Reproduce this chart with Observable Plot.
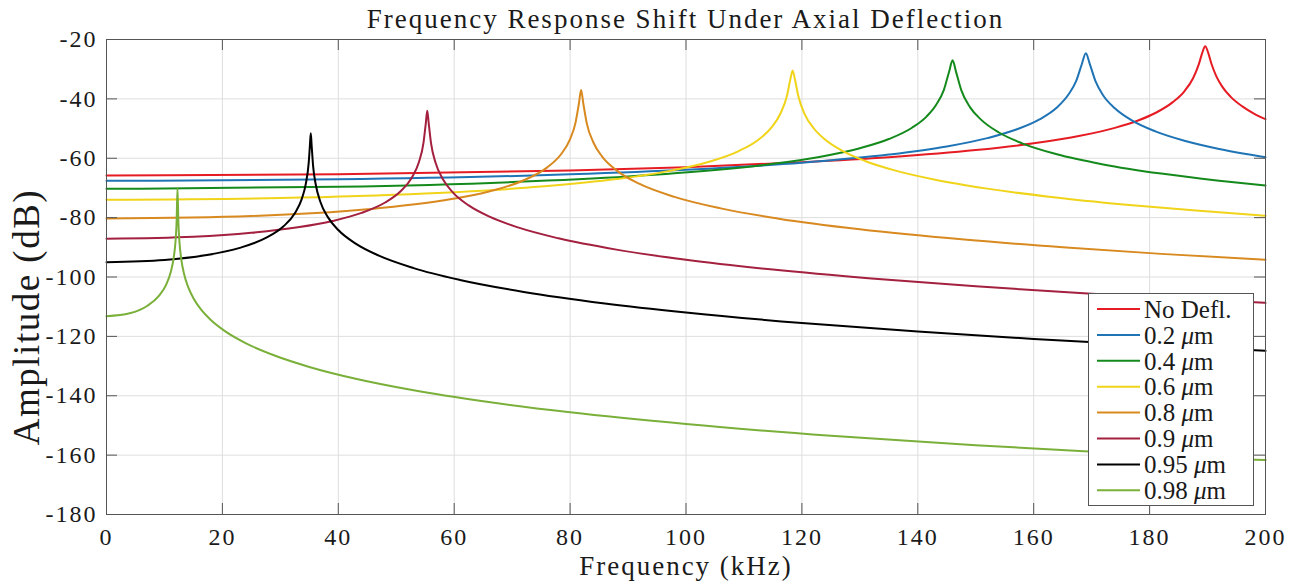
<!DOCTYPE html>
<html><head><meta charset="utf-8">
<script src="https://cdn.jsdelivr.net/npm/d3@7"></script>
<script src="https://cdn.jsdelivr.net/npm/@observablehq/plot@0.6"></script>
<style>
body{margin:0;background:#fff;}
#wrap{position:relative;width:1303px;height:585px;font-family:"Liberation Serif","Times New Roman",serif;color:#1a1a1a;}
#title{height:34px;line-height:38px;text-align:center;padding-left:106px;padding-right:38px;box-sizing:border-box;font-size:27px;letter-spacing:2px;white-space:nowrap;}
#chart svg text{letter-spacing:2px;}
#legend{position:absolute;left:0;top:0;pointer-events:none;}
</style></head>
<body>
<div id="wrap">
<div id="title">Frequency Response Shift Under Axial Deflection</div>
<div id="chart"></div>
</div>
<script>
// ---- data ----
const xTicks = [0, 20, 40, 60, 80, 100, 120, 140, 160, 180, 200];
const yTicks = [-180, -160, -140, -120, -100, -80, -60, -40, -20];

const seriesNames = ["No Defl.", "0.2", "0.4", "0.6", "0.8", "0.9", "0.95", "0.98"];
const seriesColors = ["#e51c23", "#1f74b6", "#158a1c", "#f0d41a", "#d8891f", "#a3203f", "#000000", "#7ab03a"];

const fNoDefl = [0, 40, 80, 100, 120, 135, 150, 160, 168, 174, 178, 181, 184, 186, 187.5, 188.5, 189.1, 189.6, 190.1, 190.7, 191.5, 192.5, 194, 196, 198, 200];
const aNoDefl = [-65.8, -65.4, -64.1, -63.0, -61.35, -59.66, -57.26, -54.98, -52.44, -49.76, -47.28, -44.76, -41.1, -37.44, -33.04, -28.3, -24.4, -22.3, -24.4, -28.35, -32.33, -35.78, -39.32, -42.53, -44.94, -46.84];

const f02 = [0, 40, 80, 100, 120, 135, 145, 152, 157, 161, 164, 166, 167.3, 168.3, 169, 169.7, 170.7, 172, 174, 177, 181, 186, 192, 200];
const a02 = [-67.6, -67.1, -65.4, -63.86, -61.51, -58.77, -56.03, -53.22, -50.33, -46.91, -42.91, -38.53, -34.14, -28.33, -24.6, -28.36, -34.22, -38.85, -43.17, -47.33, -50.95, -54.1, -56.87, -59.65];

const f04 = [0, 40, 70, 90, 105, 115, 123, 130, 135, 139, 141.5, 143.2, 144.5, 145.4, 146, 146.6, 147.5, 149, 151, 154, 158, 164, 172, 182, 192, 200];
const a04 = [-70.3, -69.62, -68.03, -66.15, -63.97, -61.89, -59.56, -56.63, -53.53, -49.72, -45.96, -41.89, -36.97, -30.87, -27, -30.9, -37.05, -42.78, -47.16, -51.33, -54.97, -58.66, -62.07, -65.17, -67.56, -69.16];

const f06 = [0, 30, 55, 75, 88, 97, 104, 109, 112.5, 114.8, 116.3, 117.4, 118, 118.4, 118.8, 119.4, 120.5, 122, 124, 127, 131, 136, 143, 152, 163, 176, 188, 200];
const a06 = [-74, -73.42, -71.89, -69.55, -67.02, -64.34, -61.17, -57.66, -53.75, -49.55, -44.92, -39.14, -33.5, -30.4, -33.5, -39.21, -45.22, -49.81, -53.72, -57.55, -61.01, -64.09, -67.23, -70.23, -73.04, -75.65, -77.64, -79.36];

const f08 = [0, 25, 45, 58, 66, 72, 76, 78.5, 80, 80.9, 81.5, 81.9, 82.3, 82.9, 84, 85.5, 88, 92, 98, 106, 116, 130, 148, 165, 182, 200];
const a08 = [-80.3, -79.45, -77.18, -74.25, -71.2, -67.42, -63.15, -58.5, -53.53, -48.33, -41.81, -37, -41.8, -48.43, -54.61, -59.37, -64.08, -68.66, -73.01, -76.89, -80.35, -83.93, -87.4, -90.01, -92.21, -94.21];

const f09 = [0, 15, 25, 33, 39, 44, 48, 50.8, 52.7, 53.9, 54.7, 55.1, 55.35, 55.6, 56, 56.8, 58, 59.8, 62.5, 66, 71, 78, 88, 100, 115, 132, 150, 170, 185, 200];
const a09 = [-87.1, -86.44, -85.12, -83.28, -81.14, -78.42, -74.99, -71.05, -66.51, -61.37, -54.83, -48.25, -44, -48.2, -54.94, -61.6, -66.93, -71.57, -75.89, -79.6, -83.3, -86.98, -90.78, -94.2, -97.51, -100.52, -103.15, -105.62, -107.25, -108.72];

const f095 = [0, 10, 17, 23, 27.5, 30.5, 32.5, 33.7, 34.4, 34.9, 35.1, 35.25, 35.4, 35.65, 36.1, 36.9, 38.2, 40, 43, 47, 53, 61, 72, 86, 100, 120, 140, 160, 180, 200];
const a095 = [-95, -94.27, -92.7, -90.18, -86.85, -83.01, -78.52, -73.69, -68.56, -61.39, -55.72, -51.6, -55.7, -62.54, -68.77, -74.63, -79.83, -84.18, -88.77, -92.82, -97.01, -101.0, -105.03, -108.9, -111.96, -115.5, -118.39, -120.85, -122.98, -124.88];

const f098 = [0, 4, 7, 9, 10.3, 11.1, 11.6, 11.9, 12.1, 12.25, 12.4, 12.6, 12.9, 13.4, 14.1, 15, 16.3, 18, 20.5, 24, 29, 35, 43, 53, 65, 80, 100, 125, 150, 175, 200];
const a098 = [-113.2, -112.22, -109.77, -106.46, -102.54, -98.25, -93.48, -88.22, -81.28, -70.2, -81.37, -88.46, -93.94, -99.07, -103.43, -107.17, -110.94, -114.48, -118.31, -122.26, -126.46, -130.3, -134.28, -138.17, -141.88, -145.59, -149.54, -153.47, -156.66, -159.35, -161.68];

const fArrays = [fNoDefl, f02, f04, f06, f08, f09, f095, f098];
const aArrays = [aNoDefl, a02, a04, a06, a08, a09, a095, a098];

// long table built from the arrays
const rows = [];
seriesNames.forEach((name, i) => {
  fArrays[i].forEach((f, j) => rows.push({series: name, f, a: aArrays[i][j]}));
});

const W = 1303, H = 551;
const mL = 106, mR = 38, mT = 5, mB = 71;
const innerW = W - mL - mR, innerH = H - mT - mB;
const tickLen = 11;
const axisColor = "#555555";
const gridColor = "#dedede";
const fmt = d => d.toString();

const chart = Plot.plot({
  width: W, height: H,
  marginLeft: mL, marginRight: mR, marginTop: mT, marginBottom: mB,
  style: {fontFamily: "'Liberation Serif', 'Times New Roman', serif", fontSize: "24px", color: "#1a1a1a", background: "white", overflow: "visible"},
  x: {domain: [0, 200], label: null},
  y: {domain: [-180, -20], label: null},
  color: {domain: seriesNames, range: seriesColors},
  marks: [
    Plot.gridX(xTicks, {stroke: gridColor, strokeOpacity: 1}),
    Plot.gridY(yTicks, {stroke: gridColor, strokeOpacity: 1}),
    Plot.line(rows, {x: "f", y: "a", z: "series", stroke: "series", strokeWidth: 2, curve: "monotone-x"}),
    Plot.tickX(xTicks, {x: d => d, insetTop: innerH - tickLen, stroke: axisColor}),
    Plot.tickX(xTicks, {x: d => d, insetBottom: innerH - tickLen, stroke: axisColor}),
    Plot.tickY(yTicks, {y: d => d, insetRight: innerW - tickLen, stroke: axisColor}),
    Plot.tickY(yTicks, {y: d => d, insetLeft: innerW - tickLen, stroke: axisColor}),
    Plot.frame({stroke: axisColor}),
    Plot.axisX(xTicks, {tickSize: 0, tickPadding: 13, fontSize: 24, tickFormat: fmt}),
    Plot.axisY(yTicks, {tickSize: 0, tickPadding: 9, fontSize: 24, tickFormat: fmt}),
    Plot.text(["Frequency (kHz)"], {frameAnchor: "bottom", dy: 60, fontSize: 27}),
    Plot.text(["Amplitude (dB)"], {frameAnchor: "left", textAnchor: "middle", dx: -79, dy: 40, rotate: -90, fontSize: 37})
  ]
});
document.getElementById("chart").appendChild(chart);
d3.select(chart).selectAll("text").filter(function(){ return this.textContent === "Amplitude (dB)"; }).style("letter-spacing", "1.5px");

// ---- legend overlay ----
const lg = d3.select("#wrap").append("svg").attr("id", "legend").attr("width", 1303).attr("height", 585);
const lx = 1088.5, ly = 293.5, lw = 165, lh = 212;
lg.append("rect").attr("x", lx).attr("y", ly).attr("width", lw).attr("height", lh)
  .attr("fill", "white").attr("stroke", axisColor).attr("stroke-width", 1);
seriesNames.forEach((name, i) => {
  const cy = 309 + i * 25.9;
  lg.append("line").attr("x1", 1097).attr("x2", 1140).attr("y1", cy).attr("y2", cy)
    .attr("stroke", seriesColors[i]).attr("stroke-width", 2);
  const t = lg.append("text").attr("x", 1144).attr("y", cy).attr("dy", "0.35em")
    .attr("font-family", "'Liberation Serif', 'Times New Roman', serif").attr("font-size", 25).attr("fill", "#1a1a1a");
  if (i === 0) {
    t.text(name);
  } else {
    t.append("tspan").text(name + " ");
    t.append("tspan").attr("font-style", "italic").text("\u03bc");
    t.append("tspan").text("m");
  }
});
</script>
</body></html>
